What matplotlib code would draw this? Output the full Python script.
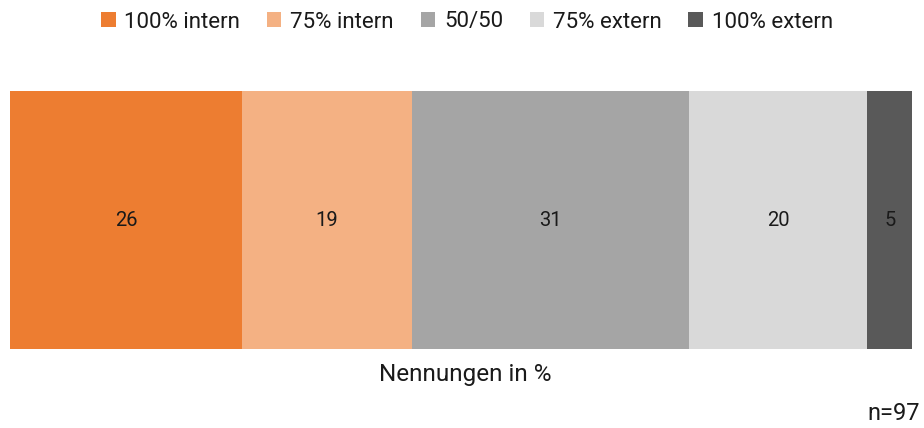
import matplotlib
matplotlib.use("Agg")
import matplotlib.pyplot as plt
from matplotlib.patches import Patch

plt.rcParams['font.family'] = ['Roboto', 'DejaVu Sans']
plt.rcParams['font.weight'] = 'normal'

categories = ["100% intern", "75% intern", "50/50", "75% extern", "100% extern"]
values = [26, 19, 31, 20, 5]
colors = ["#ED7D31", "#F4B183", "#A5A5A5", "#D9D9D9", "#595959"]
xlabel = "Nennungen in %"
note = "n=97"

W, H = 924, 428
fig = plt.figure(figsize=(W/100, H/100), dpi=100)
ax = fig.add_axes([10/W, 1-349/H, (912-10)/W, (349-91)/H])

left = 0
for cat, v, c in zip(categories, values, colors):
    ax.barh(0, v, left=left, height=1.0, color=c, label=cat)
    ax.text(left + v/2, 0, str(v), ha='center', va='center', fontsize=14.5, color='#1a1a1a')
    left += v

ax.set_xlim(0, sum(values))
ax.set_ylim(-0.5, 0.5)
ax.axis('off')

handles = [Patch(facecolor=c, edgecolor='none') for c in colors]
fig.legend(handles, categories, loc='center', bbox_to_anchor=(467/W, 1-22/H), ncol=5,
           frameon=False, fontsize=16, handlelength=0.65, handleheight=0.65,
           handletextpad=0.4, columnspacing=1.2, labelcolor='#1a1a1a')

fig.text(465/W, 1-375/H, xlabel, ha='center', va='center', fontsize=17.5, color='#1a1a1a')
fig.text(920/W, 1-413/H, note, ha='right', va='center', fontsize=17, color='#1a1a1a')

fig.savefig("out.png", dpi=100)
